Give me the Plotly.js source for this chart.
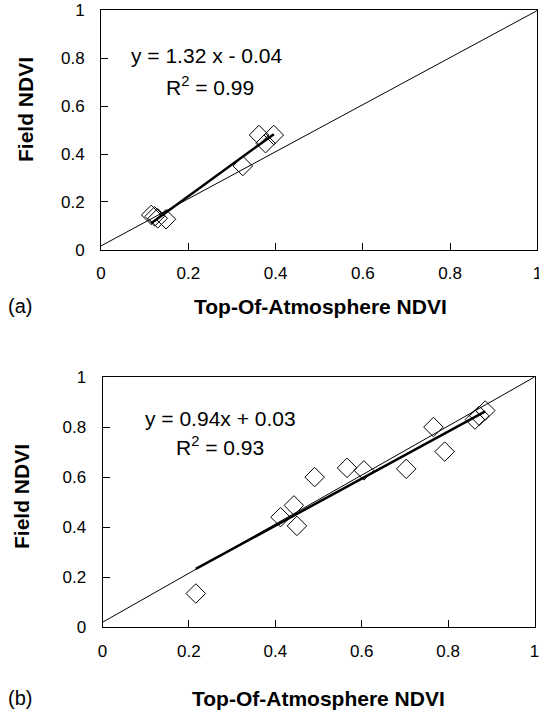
<!DOCTYPE html>
<html>
<head>
<meta charset="utf-8">
<script src="https://cdn.plot.ly/plotly-3.0.1.min.js"></script>
<style>html,body{margin:0;padding:0;background:#fff;}#chart{width:539px;height:710px;}</style>
</head>
<body>
<div id="chart"></div>
<script>
// Panel (a) data
const toaA = [0.115, 0.123, 0.130, 0.149, 0.325, 0.362, 0.377, 0.396];
const fieldA = [0.146, 0.140, 0.132, 0.128, 0.350, 0.479, 0.445, 0.479];
const slopeA = 1.32, interceptA = -0.04;
const eqA = "y = 1.32 x - 0.04";
const r2A = "R<sup>2</sup> = 0.99";

// Panel (b) data
const toaB = [0.216, 0.412, 0.443, 0.450, 0.491, 0.566, 0.605, 0.703, 0.766, 0.792, 0.862, 0.872, 0.886];
const fieldB = [0.135, 0.440, 0.487, 0.405, 0.600, 0.637, 0.627, 0.633, 0.800, 0.702, 0.830, 0.845, 0.866];
const slopeB = 0.94, interceptB = 0.03;
const eqB = "y = 0.94x + 0.03";
const r2B = "R<sup>2</sup> = 0.93";

// Reference (near 1:1) line
const refX = [0, 1];
const refYA = [0.017, 0.998];
const refYB = [0.02, 1.0];

const tickVals = [0, 0.2, 0.4, 0.6, 0.8, 1];
const tickText = ["0", "0.2", "0.4", "0.6", "0.8", "1"];
const xTitle = "Top-Of-Atmosphere NDVI";
const yTitle = "Field NDVI";

const FONT = "Liberation Sans, Arial, Helvetica, sans-serif";

function fitLine(xs, m, b) {
  const lo = Math.min(...xs), hi = Math.max(...xs);
  return {x: [lo, hi], y: [m * lo + b, m * hi + b]};
}
const fA = fitLine(toaA, slopeA, interceptA);
const fB = fitLine(toaB, slopeB, interceptB);

const marker = {symbol: "diamond-open", size: 15, color: "#000", line: {width: 1, color: "#000"}};

const traces = [
  {x: refX, y: refYA, mode: "lines", line: {color: "#000", width: 1}, xaxis: "x", yaxis: "y", hoverinfo: "skip"},
  {x: fA.x, y: fA.y, mode: "lines", line: {color: "#000", width: 2.5}, xaxis: "x", yaxis: "y"},
  {x: toaA, y: fieldA, mode: "markers", marker: marker, xaxis: "x", yaxis: "y"},
  {x: refX, y: refYB, mode: "lines", line: {color: "#000", width: 1}, xaxis: "x2", yaxis: "y2", hoverinfo: "skip"},
  {x: fB.x, y: fB.y, mode: "lines", line: {color: "#000", width: 2.5}, xaxis: "x2", yaxis: "y2"},
  {x: toaB, y: fieldB, mode: "markers", marker: marker, xaxis: "x2", yaxis: "y2"}
];

function ax(extra) {
  return Object.assign({
    range: [0, 1], tickvals: tickVals, ticktext: tickText,
    showline: true, mirror: true, linecolor: "#000", linewidth: 1,
    ticks: "inside", ticklen: 7, tickcolor: "#000", tickwidth: 1,
    showgrid: false, zeroline: false, fixedrange: true,
    ticklabeloverflow: "allow",
    tickfont: {family: FONT, size: 17, color: "#000"}
  }, extra);
}

const titleFont = {family: FONT, size: 21, color: "#000", weight: "bold"};
const textFont = {family: FONT, size: 21, color: "#000"};

function note(text, px, py, font, extra) {
  return Object.assign({text: text, x: px / 539, y: 1 - py / 710, xref: "paper", yref: "paper",
    xanchor: "center", yanchor: "middle", showarrow: false, font: font}, extra || {});
}

const layout = {
  width: 539, height: 710,
  margin: {l: 0, r: 0, t: 0, b: 0},
  paper_bgcolor: "#fff", plot_bgcolor: "#fff",
  showlegend: false,
  font: {family: FONT, color: "#000"},
  xaxis: ax({domain: [0.1874, 0.997], anchor: "y", ticklabelstandoff: 8}),
  yaxis: ax({domain: [0.6479, 0.9859], anchor: "x", ticklabelstandoff: 12}),
  xaxis2: ax({domain: [0.1902, 0.9917], anchor: "y2", ticklabelstandoff: 8}),
  yaxis2: ax({domain: [0.1165, 0.469], anchor: "x2", ticklabelstandoff: 12}),
  annotations: [
    note(eqA, 206, 55, textFont),
    note(r2A, 210, 86, textFont),
    note(eqB, 220, 418, textFont),
    note(r2B, 220, 446, textFont),
    note("(a)", 20, 306, {family: FONT, size: 20, color: "#000"}),
    note("(b)", 20, 698, {family: FONT, size: 20, color: "#000"}),
    note("<b>" + xTitle + "</b>", 320, 306, titleFont),
    note("<b>" + xTitle + "</b>", 318, 698, titleFont),
    note("<b>" + yTitle + "</b>", 25, 109, titleFont, {textangle: -90}),
    note("<b>" + yTitle + "</b>", 22, 497, titleFont, {textangle: -90})
  ]
};

Plotly.newPlot("chart", traces, layout, {displayModeBar: false, staticPlot: true});
</script>
</body>
</html>
